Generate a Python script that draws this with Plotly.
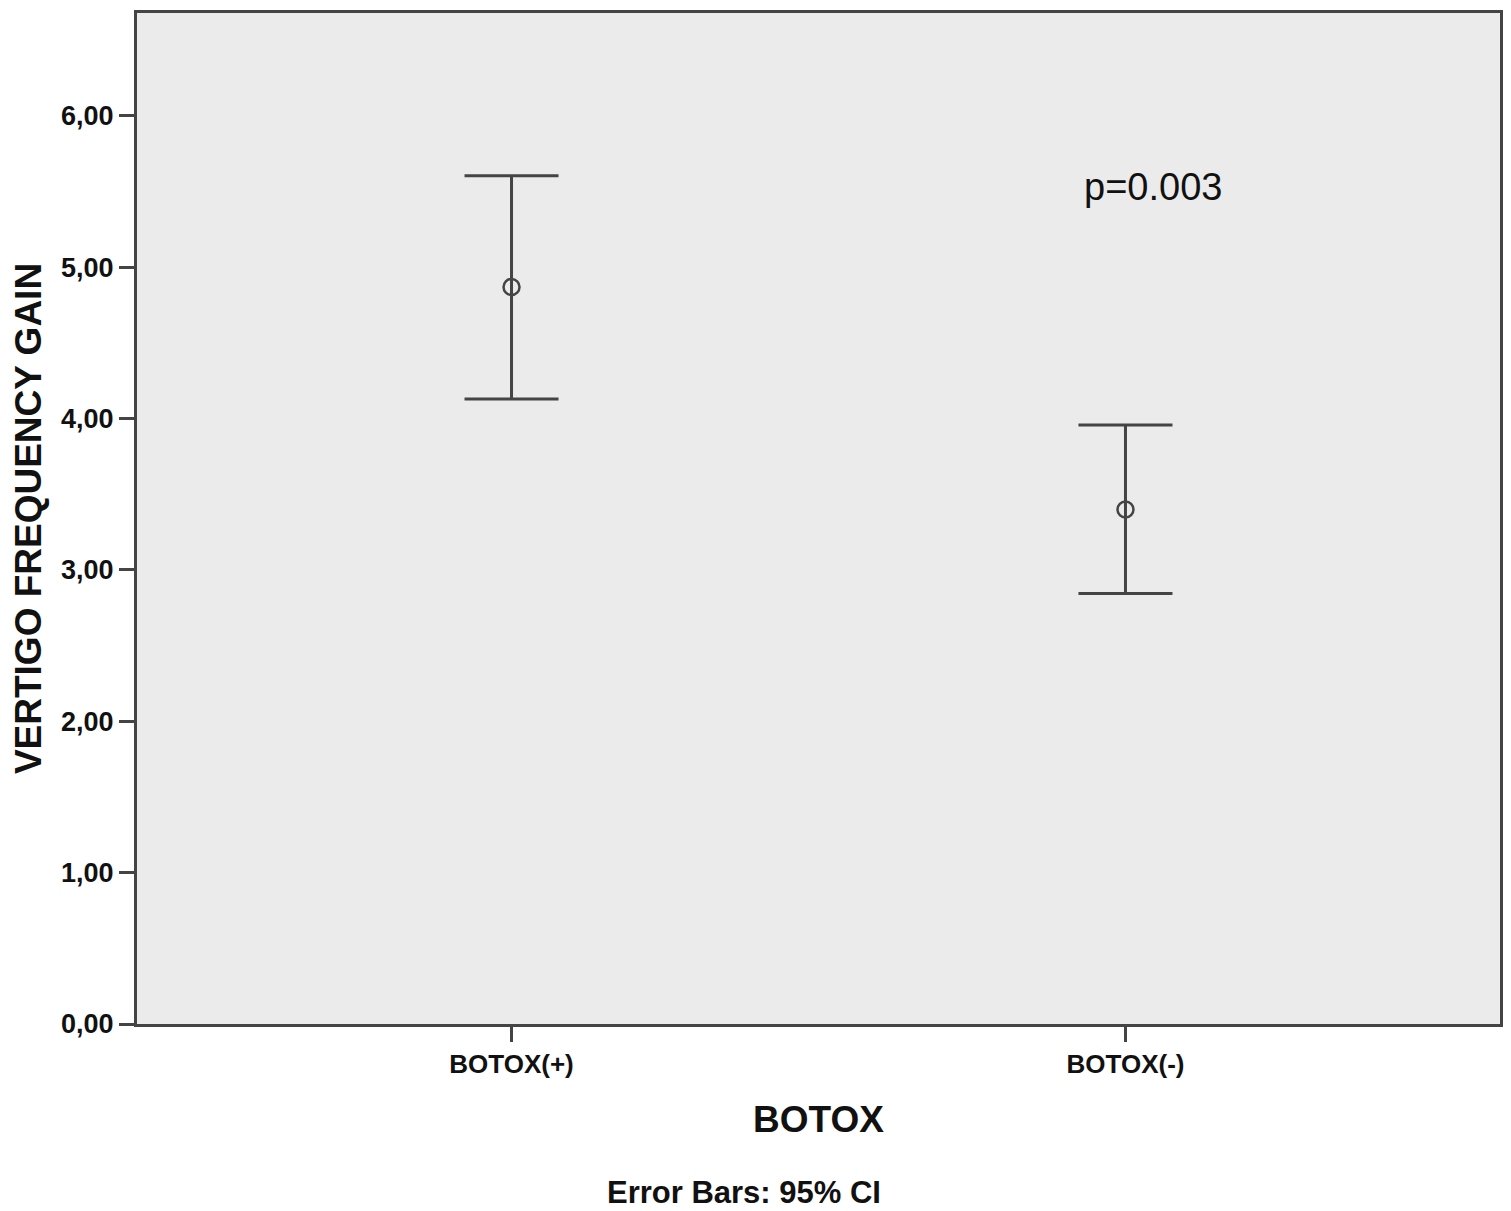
import plotly.graph_objects as go

# group means and 95% CI bounds
groups = ["BOTOX(+)", "BOTOX(-)"]
means = [4.87, 3.40]
ci_upper = [5.605, 3.958]
ci_lower = [4.13, 2.845]
y_ticks = [0, 1, 2, 3, 4, 5, 6]

err_plus = [u - m for u, m in zip(ci_upper, means)]
err_minus = [m - l for m, l in zip(means, ci_lower)]

line_col = "#444444"
font_fam = "Liberation Sans, Arial, sans-serif"

fig = go.Figure()

fig.add_trace(go.Scatter(
    x=groups,
    y=means,
    mode="markers",
    marker=dict(symbol="circle-open", size=16, color=line_col,
                line=dict(width=2.5, color=line_col)),
    error_y=dict(type="data", symmetric=False, array=err_plus,
                 arrayminus=err_minus, color=line_col,
                 thickness=3, width=47),
    showlegend=False,
    hoverinfo="skip",
))

fig.add_annotation(
    x=1.044, y=5.53, xref="x", yref="y",
    text="p=0.003", showarrow=False,
    font=dict(family=font_fam, size=38, color="#111111"),
)

# footnote below the x axis title (paper coords of the plot area)
fig.add_annotation(
    x=(744 - 137) / 1363, y=-(1193 - 1024) / 1014,
    xref="paper", yref="paper", xanchor="center", yanchor="middle",
    text="Error Bars: 95% CI", showarrow=False,
    font=dict(family=font_fam, size=31, color="#111111", weight="bold"),
)

# page body adds an 8px offset, so the figure is a bit smaller
fig.update_layout(
    width=1503,
    height=1203,
    margin=dict(l=129, r=11, t=2, b=187),
    paper_bgcolor="white",
    plot_bgcolor="#ebebeb",
    separators=",.",
    font=dict(family=font_fam, color="#111111"),
)

fig.update_xaxes(
    type="category",
    range=[-0.61, 1.61],
    showline=True, linecolor=line_col, linewidth=3, mirror=True,
    ticks="outside", ticklen=15, tickwidth=3, tickcolor=line_col,
    showgrid=False, zeroline=False,
    tickfont=dict(size=26, weight="bold", family=font_fam),
    title=dict(text="BOTOX", standoff=28,
               font=dict(size=37, weight="bold", family=font_fam)),
)

fig.update_yaxes(
    range=[0, 6.68],
    tickvals=y_ticks,
    tickformat=".2f",
    showline=True, linecolor=line_col, linewidth=3, mirror=True,
    ticks="outside", ticklen=15, tickwidth=3, tickcolor=line_col,
    showgrid=False, zeroline=False,
    tickfont=dict(size=27, weight="bold", family=font_fam),
    title=dict(text="VERTIGO FREQUENCY GAIN", standoff=20,
               font=dict(size=37, weight="bold", family=font_fam)),
)

fig.write_html("out.html")
